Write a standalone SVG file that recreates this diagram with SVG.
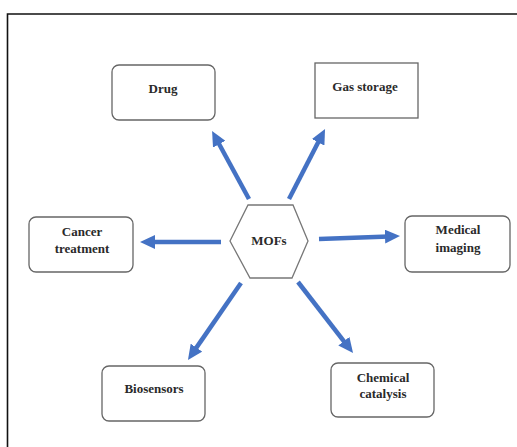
<svg xmlns="http://www.w3.org/2000/svg" width="517" height="447" viewBox="0 0 517 447">
<style>
.box{fill:#fff;stroke:#666;stroke-width:1.3}
.lbl{font-family:"Liberation Serif",serif;font-size:13px;font-weight:bold;fill:#2a2a2a;text-anchor:middle}
.arr{stroke:#4472C4;stroke-width:4.5;fill:none;marker-end:url(#ah)}
</style>
<defs>
<marker id="ah" markerUnits="userSpaceOnUse" markerWidth="15" markerHeight="14" viewBox="0 0 15 14" refX="4" refY="7" orient="auto">
<path d="M0,0 L15,7 L0,14 z" fill="#4472C4"/>
</marker>
</defs>
<rect width="517" height="447" fill="#fff"/>
<path d="M7.5,447 V14 H517" fill="none" stroke="#111" stroke-width="1.6"/>
<g id="connectors">
<line class="arr" x1="249" y1="199" x2="217.3" y2="140.7"/>
<line class="arr" x1="289" y1="199" x2="320" y2="138.8"/>
<line class="arr" x1="221" y1="242" x2="151" y2="242"/>
<line class="arr" x1="319" y1="239" x2="389" y2="236.4"/>
<line class="arr" x1="241" y1="283" x2="194.2" y2="350.9"/>
<line class="arr" x1="298" y1="282" x2="346.3" y2="344.3"/>
</g>
<g id="mofs">
<polygon class="box" points="230,241 248,205 293,205 308,241 292,278 250,278" style="stroke:#777"/>
<text class="lbl" x="269" y="245">MOFs</text>
</g>
<g id="drug">
<rect class="box" x="112" y="65" width="103" height="55" rx="7"/>
<text class="lbl" x="163" y="93">Drug</text>
</g>
<g id="gas-storage">
<rect class="box" x="315" y="63" width="103" height="55"/>
<text class="lbl" x="365" y="91">Gas storage</text>
</g>
<g id="cancer-treatment">
<rect class="box" x="29" y="217" width="104" height="55" rx="7"/>
<text class="lbl" x="82" y="236">Cancer</text>
<text class="lbl" x="82" y="253">treatment</text>
</g>
<g id="medical-imaging">
<rect class="box" x="405" y="216" width="105" height="56" rx="7"/>
<text class="lbl" x="458" y="234">Medical</text>
<text class="lbl" x="458" y="252">imaging</text>
</g>
<g id="biosensors">
<rect class="box" x="102" y="366" width="103" height="55" rx="7"/>
<text class="lbl" x="154" y="393">Biosensors</text>
</g>
<g id="chemical-catalysis">
<rect class="box" x="331" y="363" width="103" height="54" rx="7"/>
<text class="lbl" x="383" y="382">Chemical</text>
<text class="lbl" x="383" y="398">catalysis</text>
</g>
</svg>
